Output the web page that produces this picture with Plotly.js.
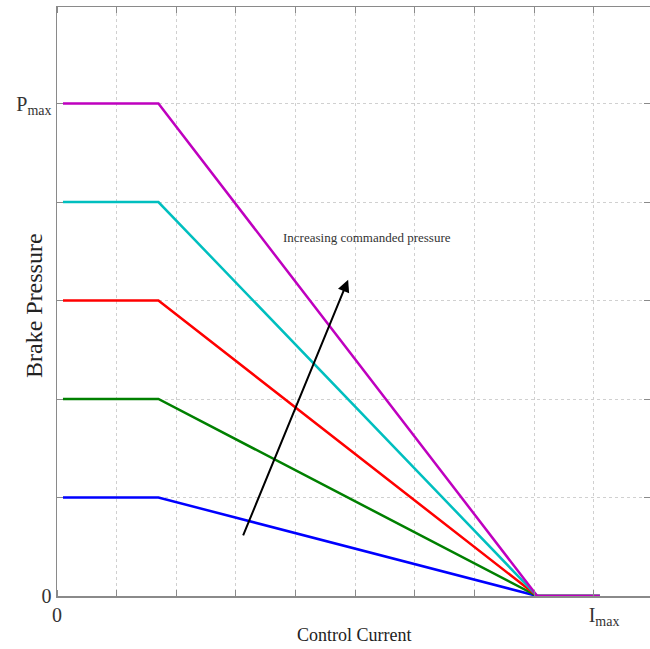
<!DOCTYPE html>
<html>
<head>
<meta charset="utf-8">
<script src="https://cdn.plot.ly/plotly-3.0.1.min.js"></script>
<style>
  html, body { margin: 0; padding: 0; background: #ffffff; overflow: hidden; }
  #chart { width: 650px; height: 649px; }
</style>
</head>
<body>
<div id="chart"></div>
<script>
// Control current breakpoints (x axis units, Imax at 9)
const controlCurrent = [0.1, 1.7, 8.05, 9.1];

// Brake pressure for each commanded level (Pmax = 5)
const pressureBlue    = [1, 1, 0, 0];
const pressureGreen   = [2, 2, 0, 0];
const pressureRed     = [3, 3, 0, 0];
const pressureCyan    = [4, 4, 0, 0];
const pressureMagenta = [5, 5, 0, 0];

const seriesNames  = ['Level 1', 'Level 2', 'Level 3', 'Level 4', 'Level 5'];
const seriesColors = ['#0000ff', '#008000', '#ff0000', '#00bfbf', '#bf00bf'];

// Tick labels
const xTickVals = [0, 9.17];
const xTickText = ['0', 'I<sub>max</sub>'];
const yTickVals = [0, 5];
const yTickText = ['0', 'P<sub>max</sub>'];

// Arrow (tail -> head) and its label
const arrowTail = [3.11, 0.60];
const arrowHead = [4.88, 3.21];
const arrowLabel = 'Increasing commanded pressure';
const arrowLabelPos = [5.2, 3.64];

const xRange = [0, 9.94];
const yRange = [0, 5.98];

const allSeries = [pressureBlue, pressureGreen, pressureRed, pressureCyan, pressureMagenta];

const traces = allSeries.map((vals, i) => ({
  x: controlCurrent,
  y: vals,
  type: 'scatter',
  mode: 'lines',
  name: seriesNames[i],
  line: { color: seriesColors[i], width: 2.5 },
  hoverinfo: 'x+y'
}));

const serif = 'Liberation Serif, Times New Roman, serif';

const minorStyle = {
  showgrid: true,
  gridcolor: '#d0d0d0',
  griddash: 'dot',
  gridwidth: 1,
  dtick: 1,
  tick0: 0,
  ticks: 'inside',
  ticklen: 6,
  tickcolor: '#8a8a8a',
  tickwidth: 1
};

const layout = {
  width: 650,
  height: 649,
  margin: { l: 57, r: 0, t: 7, b: 53 },
  paper_bgcolor: '#ffffff',
  plot_bgcolor: '#ffffff',
  showlegend: false,
  xaxis: {
    range: xRange,
    tickmode: 'array',
    tickvals: xTickVals,
    ticktext: xTickText,
    ticks: '',
    showgrid: false,
    zeroline: false,
    showline: true,
    linecolor: '#8a8a8a',
    linewidth: 1.5,
    mirror: 'ticks',
    tickfont: { family: serif, size: 20, color: '#333333' },
    minor: minorStyle
  },
  yaxis: {
    range: yRange,
    tickmode: 'array',
    tickvals: yTickVals,
    ticktext: yTickText,
    ticks: '',
    showgrid: false,
    zeroline: false,
    showline: true,
    linecolor: '#8a8a8a',
    linewidth: 1.5,
    mirror: 'ticks',
    tickfont: { family: serif, size: 20, color: '#333333' },
    minor: minorStyle
  },
  annotations: [
    {
      x: arrowHead[0], y: arrowHead[1], xref: 'x', yref: 'y',
      ax: arrowTail[0], ay: arrowTail[1], axref: 'x', ayref: 'y',
      text: '', showarrow: true, arrowhead: 2, arrowsize: 1.2,
      arrowwidth: 2, arrowcolor: '#000000'
    },
    {
      x: arrowLabelPos[0], y: arrowLabelPos[1], xref: 'x', yref: 'y',
      text: arrowLabel, showarrow: false,
      font: { family: serif, size: 13, color: '#333333' },
      xanchor: 'center', yanchor: 'middle'
    },
    {
      x: 0.502, y: -0.066, xref: 'paper', yref: 'paper',
      text: 'Control Current', showarrow: false,
      font: { family: serif, size: 18, color: '#222222' },
      xanchor: 'center', yanchor: 'middle'
    },
    {
      x: -0.0388, y: 0.494, xref: 'paper', yref: 'paper',
      text: 'Brake Pressure', showarrow: false, textangle: -90,
      font: { family: serif, size: 24, color: '#222222' },
      xanchor: 'center', yanchor: 'middle'
    }
  ]
};

Plotly.newPlot('chart', traces, layout, { displayModeBar: false, staticPlot: true });
</script>
</body>
</html>
